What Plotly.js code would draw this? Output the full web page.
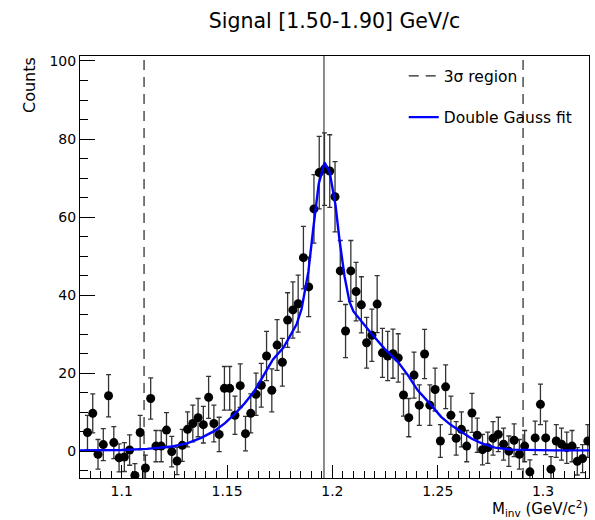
<!DOCTYPE html>
<html>
<head>
<meta charset="utf-8">
<script src="https://cdn.plot.ly/plotly-3.0.1.min.js"></script>
<style>
html,body{margin:0;padding:0;background:#fff;}
#chart{width:595px;height:520px;}
</style>
</head>
<body>
<div id="chart"></div>
<script>
// ---- data ----
const binStart = 1.08375;   // centre of first bin (GeV/c^2)
const binWidth = 0.0025;
const counts = [
  4.8, 9.7, -0.8, 1.7, 14.2, 2.2, -1.7, -1.5, 0.3, -6.2,
  4.8, -4.3, 13.5, 1.3, 1.3, 5.4, -0.1, -2.5, 1.5, 5.6,
  7.1, 8.6, 6.8, 13.8, 7.1, 4.3, 16.1, 16.1, 9.2, 16.8,
  4.5, 9.7, 14.6, 16.9, 24.4, 15.6, 27.2, 22.8, 33.6, 36.2,
  37.8, 49.6, 42.1, 62.1, 71.4, 72.3, 71.8, 65.2, 46.2, 30.8,
  46.2, 40.9, 37.5, 27.8, 29.7, 37.7, 25.2, 24.4, 25.0, 23.9,
  14.4, 8.6, 19.5, 11.8, 24.9, 11.8, 15.8, 2.6, 16.5, 9.2,
  3.3, 5.6, 1.3, 9.8, 4.1, 0.4, 0.9, 3.3, 4.3, 1.8,
  0.0, 2.8, -0.8, 1.3, -5.3, 3.4, 12.0, 3.4, -4.6, 2.6,
  1.8, 0.9, 1.3, -2.6, -1.9, 2.6
];
const errors = [
  4.4, 5.0, 3.8, 4.1, 5.4, 4.1, 3.6, 3.7, 3.9, 3.0,
  4.4, 3.3, 5.3, 4.0, 4.0, 4.5, 3.9, 3.5, 4.1, 4.5,
  4.7, 4.9, 4.7, 5.4, 4.7, 4.4, 5.6, 5.6, 4.9, 5.6,
  4.4, 5.0, 5.4, 5.6, 6.3, 5.5, 6.5, 6.1, 7.0, 7.2,
  7.3, 8.0, 7.6, 8.8, 9.3, 9.3, 9.3, 9.0, 7.8, 6.8,
  7.8, 7.5, 7.2, 6.5, 6.7, 7.3, 6.3, 6.3, 6.3, 6.2,
  5.4, 4.9, 5.9, 5.2, 6.3, 5.2, 5.5, 4.2, 5.6, 4.9,
  4.3, 4.5, 4.0, 5.0, 4.4, 3.9, 4.0, 4.3, 4.4, 4.1,
  3.9, 4.2, 3.8, 4.0, 3.1, 4.3, 5.2, 4.3, 3.2, 4.2,
  4.1, 4.0, 4.0, 3.5, 3.6, 4.2
];
// double Gauss fit curve
const fitX = [1.0802, 1.0900, 1.1000, 1.1120, 1.1240, 1.1310, 1.1377, 1.1441, 1.1490, 1.1536,
              1.1583, 1.1631, 1.1670, 1.1688, 1.1718, 1.1767, 1.1804, 1.1830, 1.1854, 1.1870,
              1.1886, 1.1909, 1.1935, 1.1963, 1.1987, 1.2015, 1.2034, 1.2058, 1.2081, 1.2100,
              1.2121, 1.2151, 1.2184, 1.2247, 1.2311, 1.2358, 1.2405, 1.2469, 1.2516, 1.2563,
              1.2611, 1.2662, 1.2709, 1.2772, 1.2851, 1.2931, 1.3050, 1.3218];
const fitY = [0.2, 0.25, 0.3, 0.6, 1.2, 2.0, 3.4, 5.2, 7.2, 9.5,
              12.2, 15.5, 19.3, 20.8, 23.5, 26.5, 30.0, 32.5, 36.5, 41.0,
              46.0, 57.0, 68.5, 74.0, 71.5, 63.0, 54.0, 44.7, 38.3, 35.8,
              34.4, 32.3, 30.2, 26.3, 22.9, 19.5, 15.6, 11.8, 8.8, 6.7,
              4.9, 3.2, 2.0, 0.9, 0.4, 0.26, 0.22, 0.2];
const sigmaLow = 1.1106;    // 3 sigma region edges
const sigmaHigh = 1.2905;
const meanMass = 1.1960;    // fitted mean
const xRange = [1.0802, 1.3218];
const yRange = [-6.87, 101.28];
const xTickLabels = ['1.1', '1.15', '1.2', '1.25', '1.3'];
const xTickVals = [1.1, 1.15, 1.2, 1.25, 1.3];

const FONT = 'DejaVu Sans, Liberation Sans, Arial, sans-serif';

const traces = [
  {
    type: 'scatter', mode: 'lines', name: '3σ region',
    x: [sigmaLow, sigmaLow, null, sigmaHigh, sigmaHigh],
    y: [yRange[0], yRange[1], null, yRange[0], yRange[1]],
    line: {color: '#222', width: 1.2, dash: '10px,7px'},
    legendgroup: 'a', showlegend: true, hoverinfo: 'skip'
  },
  {
    type: 'scatter', mode: 'lines', name: 'mean',
    x: [meanMass, meanMass], y: yRange,
    line: {color: '#666', width: 1.5},
    showlegend: false, hoverinfo: 'skip'
  },
  {
    type: 'scatter', mode: 'markers', name: 'Signal',
    x0: binStart, dx: binWidth, y: counts,
    marker: {color: '#000', size: 9},
    error_y: {type: 'data', array: errors, visible: true, color: '#333', thickness: 1.3, width: 2.5},
    showlegend: false
  },
  {
    type: 'scatter', mode: 'lines', name: 'Double Gauss fit',
    x: fitX, y: fitY,
    line: {color: '#0000ff', width: 2.4},
    legendgroup: 'b', showlegend: true
  }
];

const layout = {
  width: 595, height: 520,
  margin: {l: 80, r: 6, t: 56, b: 42, pad: 0},
  paper_bgcolor: '#fff', plot_bgcolor: '#fff',
  font: {family: FONT, size: 14, color: '#000'},
  title: {
    text: 'Signal [1.50-1.90] GeV/c',
    font: {family: FONT, size: 20.5, color: '#000'},
    x: 0.5, xref: 'paper', xanchor: 'center',
    y: 0.9596, yref: 'container', yanchor: 'middle'
  },
  xaxis: {
    range: xRange, autorange: false,
    tickmode: 'array', tickvals: xTickVals, ticktext: xTickLabels,
    ticks: 'inside', ticklen: 13, tickwidth: 1, tickcolor: '#000',
    minor: {dtick: 0.005, tick0: 1.1, ticks: 'inside', ticklen: 7, tickwidth: 1, tickcolor: '#000', showgrid: false},
    showline: true, mirror: true, linecolor: '#000', linewidth: 1,
    showgrid: false, zeroline: false,
    tickfont: {family: FONT, size: 14, color: '#000'},
    ticklabelstandoff: 0
  },
  yaxis: {
    range: yRange, autorange: false,
    tick0: 0, dtick: 20,
    ticks: 'inside', ticklen: 15, tickwidth: 1, tickcolor: '#000',
    minor: {dtick: 5, tick0: 0, ticks: 'inside', ticklen: 8, tickwidth: 1, tickcolor: '#000', showgrid: false},
    showline: true, mirror: true, linecolor: '#000', linewidth: 1,
    showgrid: false, zeroline: false,
    tickfont: {family: FONT, size: 14, color: '#000'}
  },
  showlegend: true,
  legend: {
    x: 0.636, y: 0.992, xanchor: 'left', yanchor: 'top',
    bgcolor: 'rgba(0,0,0,0)', borderwidth: 0,
    font: {family: FONT, size: 15.5, color: '#000'},
    tracegroupgap: 18,
    traceorder: 'grouped'
  },
  annotations: [
    {
      text: 'Counts', textangle: -90,
      xref: 'paper', yref: 'paper', x: 0, y: 1,
      xanchor: 'center', yanchor: 'top', xshift: -51, yshift: 1,
      showarrow: false, font: {family: FONT, size: 16, color: '#000'}
    },
    {
      text: 'M<sub>inv</sub> (GeV/c<sup>2</sup>)',
      xref: 'paper', yref: 'paper', x: 1, y: 0,
      xanchor: 'right', yanchor: 'top', xshift: 1, yshift: -18,
      showarrow: false, font: {family: FONT, size: 15, color: '#000'}
    }
  ]
};

Plotly.newPlot('chart', traces, layout, {staticPlot: true, displayModeBar: false});
</script>
</body>
</html>
